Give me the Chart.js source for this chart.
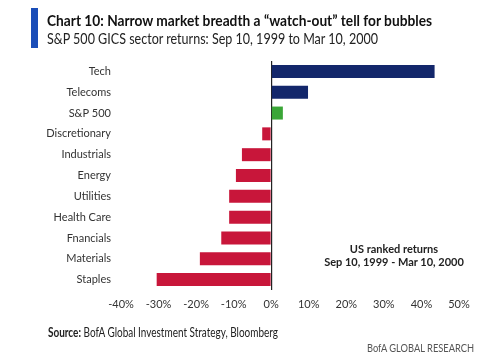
<!DOCTYPE html>
<html>
<head>
<meta charset="utf-8">
<script src="https://cdn.jsdelivr.net/npm/chart.js@4.4.1/dist/chart.umd.min.js"></script>
<style>
  html, body { margin: 0; padding: 0; background: #fff; }
  body { width: 500px; height: 357px; position: relative; overflow: hidden; font-family: Lato, "Open Sans", sans-serif; }
  #wrap { position: absolute; left: 0; top: 0; width: 500px; height: 357px; }
  .t { position: absolute; white-space: nowrap; transform-origin: left top; }
  #bar { position: absolute; left: 31px; top: 8px; width: 7px; height: 40px; background: #1a4db8; }
  #title { left: 47px; top: 11px; font-size: 15px; font-weight: 700; color: #111; }
  #sub { left: 47px; top: 29px; font-size: 15px; color: #222; }
  #note { left: 314px; top: 242px; width: 160px; text-align: center; font-size: 11px; font-weight: 700; color: #222; line-height: 13px; }
  #src { left: 48px; top: 324px; font-size: 13px; color: #222; }
  #brand { left: 367px; top: 340px; font-size: 12px; color: #555; }
</style>
</head>
<body>
<div id="wrap"><canvas id="c" width="500" height="357"></canvas></div>
<div id="bar"></div>
<div class="t" id="title" data-w="385">Chart 10: Narrow market breadth a “watch-out” tell for bubbles</div>
<div class="t" id="sub" data-w="331">S&amp;P 500 GICS sector returns: Sep 10, 1999 to Mar 10, 2000</div>
<div class="t" id="note">US ranked returns<br>Sep 10, 1999 - Mar 10, 2000</div>
<div class="t" id="src" data-w="230"><b>Source:</b> BofA Global Investment Strategy, Bloomberg</div>
<div class="t" id="brand" data-w="107">BofA GLOBAL RESEARCH</div>
<script>
const categories = ["Tech", "Telecoms", "S&P 500", "Discretionary", "Industrials", "Energy", "Utilities", "Health Care", "Fnancials", "Materials", "Staples"];
const returns = [43.5, 9.8, 3.1, -2.4, -7.8, -9.4, -11.2, -11.2, -13.3, -19.0, -30.5];
const xTicks = [-40, -30, -20, -10, 0, 10, 20, 30, 40, 50];
const benchmark = "S&P 500";

document.querySelectorAll('.t[data-w]').forEach(el => {
  const target = parseFloat(el.dataset.w);
  const w = el.getBoundingClientRect().width;
  if (w > 0) el.style.transform = 'scaleX(' + (target / w) + ')';
});

const NAVY = '#13276b', GREEN = '#3aa637', RED = '#c8163a';

new Chart(document.getElementById('c'), {
  type: 'bar',
  data: {
    labels: categories,
    datasets: [{
      data: returns,
      backgroundColor: ctx => {
        const v = ctx.raw;
        if (categories[ctx.dataIndex] === benchmark) return GREEN;
        return v >= 0 ? NAVY : RED;
      },
      categoryPercentage: 0.8,
      barPercentage: 0.78,
      borderWidth: 0
    }]
  },
  options: {
    indexAxis: 'y',
    responsive: false,
    animation: false,
    devicePixelRatio: 1,
    layout: { padding: { top: 61, right: 41, left: 0, bottom: 0 } },
    plugins: { legend: { display: false }, tooltip: { enabled: false } },
    scales: {
      x: {
        min: -40, max: 50,
        afterBuildTicks: s => { s.ticks = xTicks.map(v => ({ value: v })); },
        afterFit: s => { s.height = 67; },
        border: { display: false },
        grid: {
          drawTicks: false,
          color: c => (c.tick && c.tick.value === 0) ? '#222' : 'rgba(0,0,0,0)',
          lineWidth: 1.2
        },
        ticks: {
          padding: 8,
          color: '#333',
          font: { family: 'Lato', size: 11 },
          callback: v => v + '%'
        }
      },
      y: {
        afterFit: s => { s.width = 121; },
        border: { display: false },
        grid: { display: false, drawTicks: false },
        ticks: {
          padding: 10,
          color: '#333',
          font: { family: 'Lato', size: 11 }
        }
      }
    }
  }
});
</script>
</body>
</html>
